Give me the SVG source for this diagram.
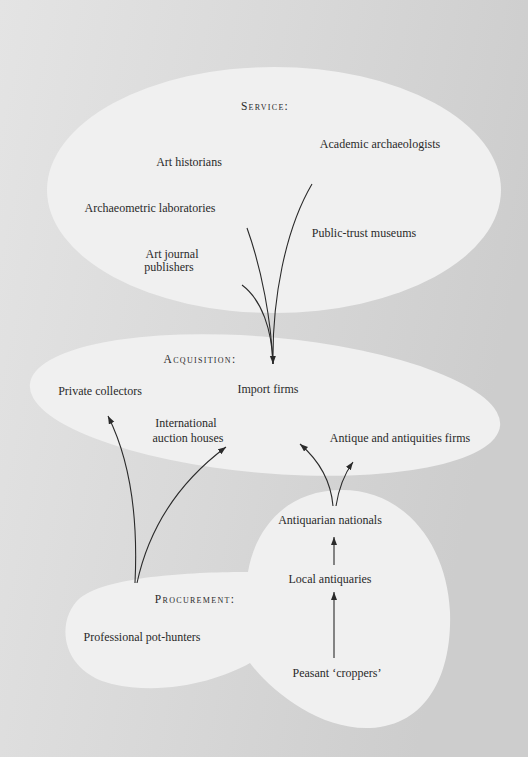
<svg xmlns="http://www.w3.org/2000/svg" width="528" height="757" viewBox="0 0 528 757">
<defs>
<linearGradient id="bg" x1="0" y1="0" x2="1" y2="0.3">
<stop offset="0" stop-color="#e4e4e4"/>
<stop offset="0.5" stop-color="#d9d9d9"/>
<stop offset="1" stop-color="#cdcdcd"/>
</linearGradient>
<marker id="ah" markerUnits="userSpaceOnUse" markerWidth="9" markerHeight="7" refX="8" refY="3" orient="auto">
<path d="M0,0 L8,3 L0,6 z" fill="#2a2a2a"/>
</marker>
<style>
.region{fill:#f0f0f0;stroke:none}
.t{font-family:"Liberation Serif",serif;font-size:12px;fill:#2a2a2a;text-anchor:middle}
.h{font-family:"Liberation Serif",serif;font-size:11.5px;fill:#2a2a2a;text-anchor:middle;font-variant:small-caps;letter-spacing:1.3px}
.c{fill:none;stroke:#2a2a2a;stroke-width:1.1}
</style>
</defs>
<rect width="528" height="757" fill="url(#bg)"/>
<g id="service">
<ellipse class="region" cx="274" cy="190" rx="227" ry="123"/>
<text class="h" x="265" y="110">Service:</text>
<text class="t" x="380" y="148">Academic archaeologists</text>
<text class="t" x="189" y="166">Art historians</text>
<text class="t" x="150" y="212">Archaeometric laboratories</text>
<text class="t" x="364" y="237">Public-trust museums</text>
<text class="t" x="172" y="258">Art journal</text>
<text class="t" x="169" y="271">publishers</text>
</g>
<g id="acquisition">
<ellipse class="region" cx="265" cy="405" rx="236" ry="68" transform="rotate(5 265 405)"/>
<text class="h" x="200" y="363">Acquisition:</text>
<text class="t" x="100" y="395">Private collectors</text>
<text class="t" x="268" y="393">Import firms</text>
<text class="t" x="186" y="427">International</text>
<text class="t" x="188" y="442">auction houses</text>
<text class="t" x="400" y="442">Antique and antiquities firms</text>
</g>
<g id="procurement">
<path class="region" d="M 248 572 C 200 572, 110 575, 80 598 C 55 620, 60 672, 112 684 C 165 696, 220 680, 250 663 C 272 692, 320 730, 370 728 C 430 725, 452 670, 450 612 C 447 545, 405 490, 342 490 C 285 490, 255 530, 248 572 Z"/>
<text class="h" x="195" y="603">Procurement:</text>
<text class="t" x="142" y="641">Professional pot-hunters</text>
<text class="t" x="330" y="524">Antiquarian nationals</text>
<text class="t" x="330" y="583">Local antiquaries</text>
<text class="t" x="337" y="677">Peasant ‘croppers’</text>
</g>
<g id="connectors">
<path class="c" d="M 312 184 C 285 230, 272 300, 273 364" marker-end="url(#ah)"/>
<path class="c" d="M 247 228 C 262 270, 271 320, 273 364"/>
<path class="c" d="M 242 285 C 262 300, 272 330, 273 364"/>
<path class="c" d="M 135 583 Q 140 480 108 416" marker-end="url(#ah)"/>
<path class="c" d="M 137 583 Q 155 500 226 447" marker-end="url(#ah)"/>
<path class="c" d="M 333 506 Q 330 470 300 444" marker-end="url(#ah)"/>
<path class="c" d="M 336 506 Q 340 480 353 462" marker-end="url(#ah)"/>
<path class="c" d="M 334 565 L 334 537" marker-end="url(#ah)"/>
<path class="c" d="M 334 658 L 334 592" marker-end="url(#ah)"/>
</g>
</svg>
